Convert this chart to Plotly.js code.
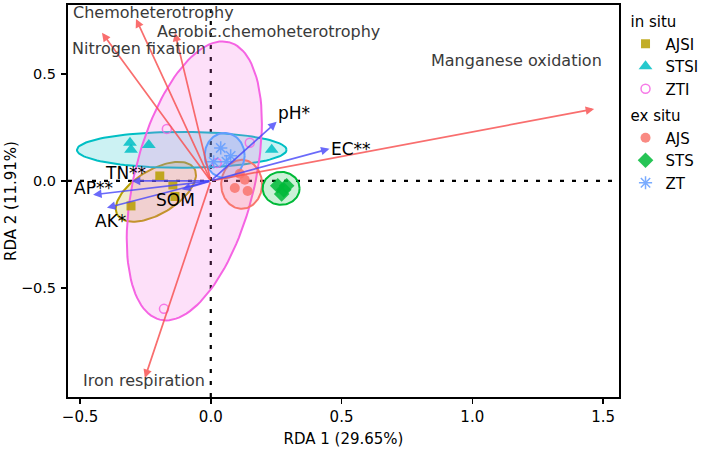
<!DOCTYPE html>
<html><head><meta charset="utf-8">
<script src="https://cdn.plot.ly/plotly-3.0.1.min.js"></script>
<style>html,body{margin:0;padding:0;background:#fff}#chart{width:708px;height:453px}</style>
</head><body><div id="chart"></div>
<script>
// ---- sample scores ----
const groups = ["AJSI","STSI","ZTI","AJS","STS","ZT"];
const xAJSI = [-0.195, -0.145, -0.137, -0.305];
const yAJSI = [0.023, -0.019, -0.073, -0.117];
const xSTSI = [-0.309, -0.305, -0.237, 0.233];
const ySTSI = [0.178, 0.145, 0.168, 0.145];
const xZTI = [-0.168, 0.149, 0.023, -0.179];
const yZTI = [0.243, 0.178, 0.084, -0.598];
const xAJS = [0.130, 0.092, 0.141, 0.111];
const yAJS = [0.005, -0.033, -0.047, 0.033];
const xSTS = [0.256, 0.279, 0.271, 0.290];
const ySTS = [-0.023, -0.042, -0.061, -0.023];
const xZT = [0.038, 0.076, 0.011, 0.060];
const yZT = [0.154, 0.117, 0.089, 0.090];

// ---- group ellipses (centre in data units, semi-axes in px, angle deg) ----
const ellCx = [-0.210, -0.111, -0.063, 0.118, 0.269, 0.053];
const ellCy = [-0.051, 0.145, 0.000, -0.016, -0.035, 0.119];
const ellA = [45, 105, 143, 20.5, 18.5, 20];
const ellB = [22, 18, 60, 24.5, 16.5, 22.5];
const ellAng = [31, 0, 76, 0, 0, 0];

// ---- function vectors ----
const funNames = ["Chemoheterotrophy","Aerobic.chemoheterotrophy","Nitrogen fixation","Manganese oxidation","Iron respiration"];
const funX = [-0.286, -0.137, -0.416, 1.466, -0.252];
const funY = [0.757, 0.692, 0.692, 0.336, -0.921];
const funLabX = [-0.218, 0.221, -0.275, 1.168, -0.256];
const funLabY = [0.785, 0.696, 0.621, 0.561, -0.935];

// ---- environmental vectors ----
const envNames = ["pH*","EC**","TN**","AP**","AK*","SOM"];
const envX = [0.252, 0.454, -0.302, -0.450, -0.397, -0.110];
const envY = [0.276, 0.150, 0.000, -0.065, -0.126, -0.040];
const envLabX = [0.320, 0.538, -0.328, -0.450, -0.385, -0.134];
const envLabY = [0.318, 0.150, 0.037, -0.033, -0.187, -0.089];

const xTicks = [-0.5, 0, 0.5, 1.0, 1.5];
const yTicks = [-0.5, 0, 0.5];

const colors = {AJS:"#F8766D", AJSI:"#B79F00", STS:"#00BA38", STSI:"#00BFC4", ZT:"#619CFF", ZTI:"#F564E3"};
const PXX = 262, PXY = 214;
const FONT = "DejaVu Sans, Liberation Sans, sans-serif";

function hexA(h, a){const r=parseInt(h.slice(1,3),16),g=parseInt(h.slice(3,5),16),b=parseInt(h.slice(5,7),16);return `rgba(${r},${g},${b},${a})`;}

const traces = [];
groups.forEach((g,i)=>{
  const ex=[], ey=[];
  const th = ellAng[i]*Math.PI/180;
  for(let k=0;k<=120;k++){
    const t = 2*Math.PI*k/120;
    const px = ellA[i]*Math.cos(t)*Math.cos(th) - ellB[i]*Math.sin(t)*Math.sin(th);
    const py = ellA[i]*Math.cos(t)*Math.sin(th) + ellB[i]*Math.sin(t)*Math.cos(th);
    ex.push(ellCx[i] + px/PXX); ey.push(ellCy[i] + py/PXY);
  }
  traces.push({type:"scatter", mode:"lines", x:ex, y:ey, fill:"toself",
    fillcolor:hexA(colors[g],0.2), line:{color:colors[g], width:2}, showlegend:false, hoverinfo:"skip"});
});

const pts = {AJSI:[xAJSI,yAJSI,"square"], STSI:[xSTSI,ySTSI,"triangle-up"], ZTI:[xZTI,yZTI,"circle-open"],
             AJS:[xAJS,yAJS,"circle"], STS:[xSTS,ySTS,"diamond"], ZT:[xZT,yZT,"asterisk-open"]};
const sizes = {AJSI:9, STSI:12, ZTI:9, AJS:10, STS:12, ZT:11};
groups.forEach((g,i)=>{
  const inSitu = i<3;
  const tr = {type:"scatter", mode:"markers", name:g, x:pts[g][0], y:pts[g][1],
    legendgroup: inSitu?"in":"ex",
    marker:{symbol:pts[g][2], size:sizes[g], color:colors[g], opacity:0.85, line:{color:colors[g], width:(g==="ZTI"||g==="ZT")?1.5:0}}};
  if(i===0) tr.legendgrouptitle = {text:"in situ", font:{size:15, color:"#000"}};
  if(i===3) tr.legendgrouptitle = {text:"ex situ", font:{size:15, color:"#000"}};
  traces.push(tr);
});

const ann = [];
funNames.forEach((n,i)=>{
  ann.push({x:funX[i], y:funY[i], ax:0, ay:0, xref:"x", yref:"y", axref:"x", ayref:"y", text:"",
    showarrow:true, arrowhead:2, arrowsize:1, arrowwidth:1.7, arrowcolor:"rgba(248,85,85,0.85)", standoff:0});
  ann.push({x:funLabX[i], y:funLabY[i], xref:"x", yref:"y", text:n, showarrow:false,
    font:{size:16, color:"#3a3a3a"}});
});
envNames.forEach((n,i)=>{
  ann.push({x:envX[i], y:envY[i], ax:0, ay:0, xref:"x", yref:"y", axref:"x", ayref:"y", text:"",
    showarrow:true, arrowhead:2, arrowsize:1, arrowwidth:1.7, arrowcolor:"rgba(70,70,250,0.8)", standoff:0});
  ann.push({x:envLabX[i], y:envLabY[i], xref:"x", yref:"y", text:n, showarrow:false,
    font:{size:17, color:"#000"}});
});

const layout = {
  width:708, height:453, paper_bgcolor:"#fff", plot_bgcolor:"#fff",
  font:{family:FONT, color:"#000"},
  margin:{l:68, r:88, t:5, b:56},
  xaxis:{range:[-0.546,1.561], tickvals:xTicks, tickformat:".1f", ticks:"outside", ticklen:5, tickwidth:1.5, tickcolor:"#000",
    showgrid:false, zeroline:false, showline:true, mirror:true, linecolor:"#000", linewidth:2,
    tickfont:{size:15, color:"#000"}, title:{text:"RDA 1 (29.65%)", font:{size:15, color:"#000"}, standoff:8}},
  yaxis:{range:[-1.01,0.822], tickvals:yTicks, tickformat:".1f", ticks:"outside", ticklen:5, tickwidth:1.5, tickcolor:"#000",
    ticklabelstandoff:2,
    showgrid:false, zeroline:false, showline:true, mirror:true, linecolor:"#000", linewidth:2,
    tickfont:{size:14.5, color:"#000"}, title:{text:"RDA 2 (11.91%)", font:{size:15, color:"#000"}, standoff:1}},
  shapes:[
    {type:"line", xref:"x", yref:"paper", x0:0, x1:0, y0:0, y1:1, line:{color:"#000", width:2.2, dash:"4px,8px"}, layer:"below"},
    {type:"line", xref:"paper", yref:"y", x0:0, x1:1, y0:0, y1:0, line:{color:"#000", width:2.2, dash:"4px,8px"}, layer:"below"}
  ],
  annotations:ann,
  showlegend:true,
  legend:{x:1.01, y:1.0, xanchor:"left", yanchor:"top", font:{size:15}, tracegroupgap:4, itemwidth:30, bgcolor:"rgba(0,0,0,0)"}
};
Plotly.newPlot("chart", traces, layout, {displayModeBar:false, staticPlot:true});
</script></body></html>
